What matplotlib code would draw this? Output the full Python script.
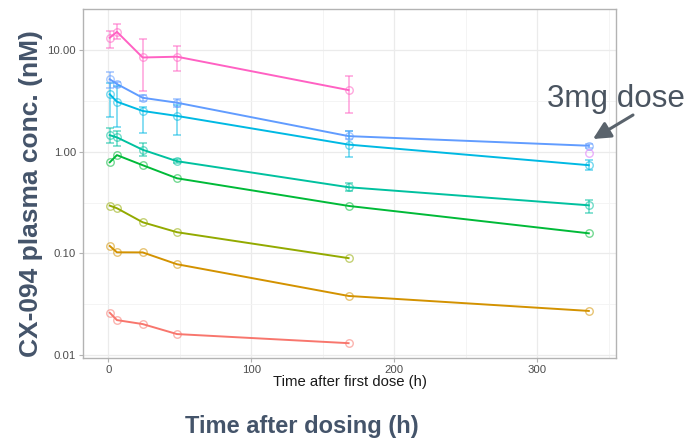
import numpy as np
import matplotlib
matplotlib.use("Agg")
import matplotlib.pyplot as plt
from matplotlib.ticker import FixedLocator, FixedFormatter

plt.rcParams['font.family'] = ['Liberation Sans', 'DejaVu Sans']

# sampling times (h)
times = [1, 6, 24, 48, 168, 336]
nan = np.nan

# mean concentrations (nM) per dose group
conc_red = [0.0261, 0.0221, 0.0202, 0.0161, 0.0131, nan]
conc_orange = [0.1186, 0.1027, 0.1025, 0.0784, 0.0382, 0.0272]
conc_olive = [0.296, 0.279, 0.203, 0.162, 0.090, nan]
conc_green = [0.79, 0.93, 0.74, 0.55, 0.294, 0.158]
conc_teal = [1.46, 1.39, 1.05, 0.81, 0.449, 0.298]
conc_cyan = [3.69, 3.12, 2.53, 2.26, 1.18, 0.74]
conc_blue = [5.19, 4.66, 3.41, 3.05, 1.43, 1.15]
conc_purple = [nan, nan, nan, nan, nan, 0.97]
conc_pink = [13.3, 15.2, 8.5, 8.65, 4.06, nan]

# error bar limits (lower, upper)
lo_teal = [1.22, 1.15, 0.91, 0.77, 0.41, 0.25]
hi_teal = [1.70, 1.61, 1.22, 0.85, 0.49, 0.34]
lo_cyan = [2.22, 1.75, 1.55, 1.47, 0.90, 0.66]
hi_cyan = [4.73, 4.45, 2.78, 2.90, 1.61, 0.83]
lo_blue = [4.30, 4.40, 3.20, 2.78, 1.33, 1.10]
hi_blue = [6.07, 4.90, 3.60, 3.34, 1.61, 1.20]
lo_pink = [10.6, 12.8, 4.0, 6.3, 2.4, nan]
hi_pink = [15.6, 18.0, 12.9, 11.1, 5.58, nan]

series = [
    ('#F8766D', conc_red, None, None),
    ('#D39200', conc_orange, None, None),
    ('#93AA00', conc_olive, None, None),
    ('#00BA38', conc_green, None, None),
    ('#00C19F', conc_teal, lo_teal, hi_teal),
    ('#00B9E3', conc_cyan, lo_cyan, hi_cyan),
    ('#619CFF', conc_blue, lo_blue, hi_blue),
    ('#DB72FB', conc_purple, None, None),
    ('#FF61C3', conc_pink, lo_pink, hi_pink),
]

fig = plt.figure(figsize=(6.89, 4.42), dpi=100)
ax = fig.add_axes([0.1205, 0.191, 0.7735, 0.7886])

t = np.array(times, dtype=float)
for color, vals, lo, hi in series:
    v = np.array(vals, dtype=float)
    ok = ~np.isnan(v)
    ax.plot(t[ok], v[ok], color=color, lw=1.4, zorder=3)
    ax.plot(t[ok], v[ok], 'o', mfc='none', mec=color, mew=1.0, ms=5.4, alpha=0.55, zorder=4)
    if lo is not None:
        l = np.array(lo, dtype=float)
        h = np.array(hi, dtype=float)
        ok2 = ~np.isnan(l)
        ax.errorbar(t[ok2], v[ok2], yerr=[v[ok2] - l[ok2], h[ok2] - v[ok2]],
                    fmt='none', ecolor=color, elinewidth=1.2, capsize=2.7,
                    capthick=1.2, alpha=0.55, zorder=4)

ax.set_yscale('log')
ax.set_xlim(-17.7, 355)
ax.set_ylim(0.00945, 25.5)

ax.yaxis.set_major_locator(FixedLocator([0.01, 0.1, 1, 10]))
ax.yaxis.set_major_formatter(FixedFormatter(['0.01', '0.10', '1.00', '10.00']))
ax.yaxis.set_minor_locator(FixedLocator([10 ** -1.5, 10 ** -0.5, 10 ** 0.5]))
ax.yaxis.set_minor_formatter(FixedFormatter(['', '', '']))
ax.set_xticks([0, 100, 200, 300])
ax.set_xticks([50, 150, 250, 350], minor=True)

ax.grid(True, which='major', color='#EBEBEB', lw=0.9)
ax.grid(True, which='minor', color='#F3F3F3', lw=0.6)
ax.set_axisbelow(True)
for s in ax.spines.values():
    s.set_color('#B3B3B3')
    s.set_linewidth(1.0)
ax.tick_params(which='major', length=3, color='#B3B3B3', labelsize=8.2,
               labelcolor='#4D4D4D', pad=2)
ax.tick_params(which='minor', length=0)

fig.text(0.5073, 0.136, 'Time after first dose (h)', ha='center', va='center',
         fontsize=10.7, color='#1A1A1A')

# slide-level labels
fig.text(0.045, 0.562, 'CX-094 plasma conc. (nM)', rotation=90, ha='center',
         va='center', fontsize=19, fontweight='bold', color='#44546A')
fig.text(0.438, 0.034, 'Time after dosing (h)', ha='center', va='center',
         fontsize=17, fontweight='bold', color='#44546A')

fig.text(547 / 689, 1 - 106.7 / 442, '3mg dose', ha='left', va='baseline',
         fontsize=22.6, color='#4A5460')
ax.annotate('', xy=(593, 442 - 139), xytext=(633, 442 - 115),
            xycoords='figure pixels', textcoords='figure pixels',
            arrowprops=dict(arrowstyle='-|>', color='#5A636C', lw=2.2,
                            mutation_scale=26, shrinkA=0, shrinkB=0))

fig.savefig('out.png', dpi=100)
